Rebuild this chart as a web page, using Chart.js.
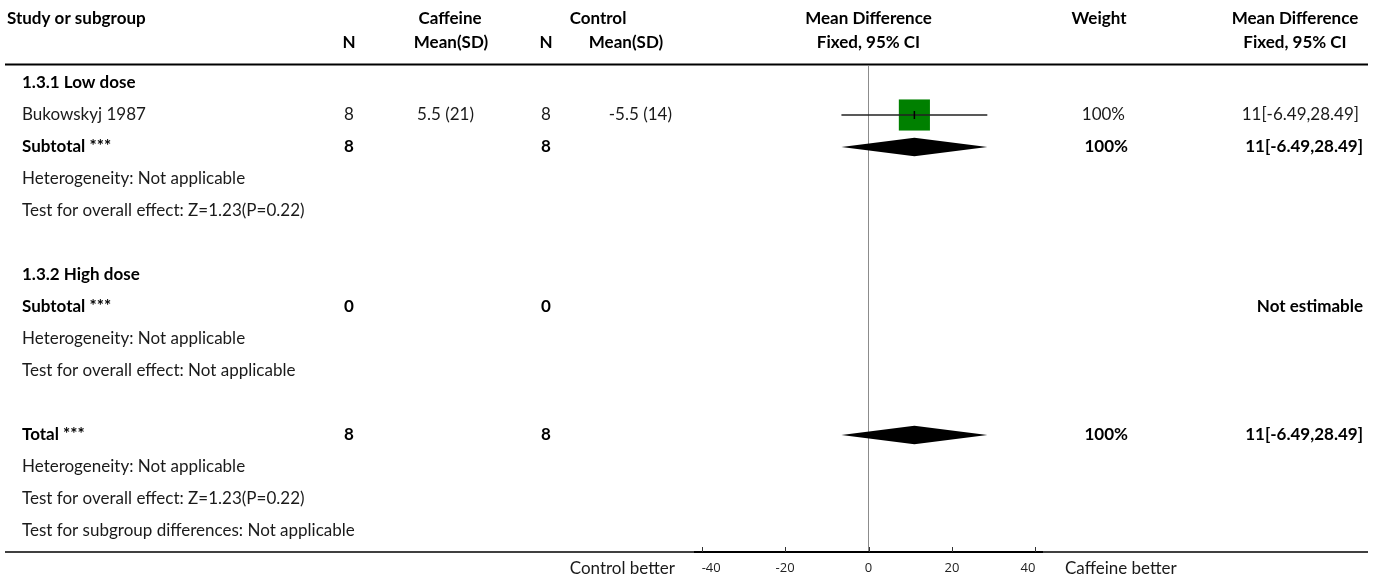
<!DOCTYPE html>
<html>
<head>
<meta charset="utf-8">
<script src="https://cdn.jsdelivr.net/npm/chart.js@4/dist/chart.umd.min.js"></script>
<style>
  html, body { margin: 0; padding: 0; background: #fff; }
  #wrap { width: 1375px; height: 583px; position: relative; }
</style>
</head>
<body>
<div id="wrap"><canvas id="forest" width="1375" height="583"></canvas></div>
<script>
// Axis ticks for the mean-difference scale
const tickValues = [-40, -20, 0, 20, 40];
const axisLimit = 41.6;

// Individual study
const studyNames = ['Bukowskyj 1987'];
const caffeineN = [8];
const caffeineMean = [5.5];
const caffeineSD = [21];
const controlN = [8];
const controlMean = [-5.5];
const controlSD = [14];
const studyMD = [11];
const studyLow = [-6.49];
const studyHigh = [28.49];
const studyWeight = [100];

// Subgroup headings
const subgroupNames = ['1.3.1 Low dose', '1.3.2 High dose'];

// Pooled rows: low-dose subtotal, high-dose subtotal, overall total
const pooledLabels = ['Subtotal ***', 'Subtotal ***', 'Total ***'];
const pooledCaffeineN = [8, 0, 8];
const pooledControlN = [8, 0, 8];
const pooledMD = [11, null, 11];
const pooledLow = [-6.49, null, -6.49];
const pooledHigh = [28.49, null, 28.49];
const pooledWeight = [100, null, 100];
const heterogeneityText = ['Heterogeneity: Not applicable', 'Heterogeneity: Not applicable', 'Heterogeneity: Not applicable'];
const overallEffectText = ['Test for overall effect: Z=1.23(P=0.22)', 'Test for overall effect: Not applicable', 'Test for overall effect: Z=1.23(P=0.22)'];
const subgroupDiffText = 'Test for subgroup differences: Not applicable';

// Row slots on the vertical scale
const studyRows = [1];
const headingRows = [0, 6];
const pooledRows = [2, 7, 11];

const FONT = 'Lato';
const FS = 17;

function fmtCI(m, lo, hi) { return m + '[' + lo + ',' + hi + ']'; }

// Build the text table
const cells = [];
function cell(row, x, text, align, bold) { cells.push({ row, x, text, align, bold }); }
headingRows.forEach((r, i) => cell(r, 22, subgroupNames[i], 'left', true));
studyRows.forEach((r, i) => {
  cell(r, 22, studyNames[i], 'left', false);
  cell(r, 349, String(caffeineN[i]), 'center', false);
  cell(r, 474, caffeineMean[i] + ' (' + caffeineSD[i] + ')', 'right', false);
  cell(r, 546, String(controlN[i]), 'center', false);
  cell(r, 672, controlMean[i] + ' (' + controlSD[i] + ')', 'right', false);
  cell(r, 1125, studyWeight[i] + '%', 'right', false);
  cell(r, 1359, fmtCI(studyMD[i], studyLow[i], studyHigh[i]), 'right', false);
});
pooledRows.forEach((r, i) => {
  cell(r, 22, pooledLabels[i], 'left', true);
  cell(r, 349, String(pooledCaffeineN[i]), 'center', true);
  cell(r, 546, String(pooledControlN[i]), 'center', true);
  if (pooledMD[i] !== null) {
    cell(r, 1128, pooledWeight[i] + '%', 'right', true);
    cell(r, 1363, fmtCI(pooledMD[i], pooledLow[i], pooledHigh[i]), 'right', true);
  } else {
    cell(r, 1363, 'Not estimable', 'right', true);
  }
  cell(r + 1, 22, heterogeneityText[i], 'left', false);
  cell(r + 2, 22, overallEffectText[i], 'left', false);
});
cell(14, 22, subgroupDiffText, 'left', false);

const headerCells = [
  { y: 19, x: 7, text: 'Study or subgroup', align: 'left' },
  { y: 19, x: 450, text: 'Caffeine', align: 'center' },
  { y: 19, x: 598, text: 'Control', align: 'center' },
  { y: 19, x: 'axis', text: 'Mean Difference', align: 'center' },
  { y: 19, x: 1099, text: 'Weight', align: 'center' },
  { y: 19, x: 1295, text: 'Mean Difference', align: 'center' },
  { y: 43, x: 349, text: 'N', align: 'center' },
  { y: 43, x: 451, text: 'Mean(SD)', align: 'center' },
  { y: 43, x: 546, text: 'N', align: 'center' },
  { y: 43, x: 626, text: 'Mean(SD)', align: 'center' },
  { y: 43, x: 'axis', text: 'Fixed, 95% CI', align: 'center' },
  { y: 43, x: 1295, text: 'Fixed, 95% CI', align: 'center' }
];

const forestPlugin = {
  id: 'forestTable',
  afterDatasetsDraw(chart) {
    const { ctx, scales: { x, y } } = chart;
    // pooled diamonds
    ctx.save();
    ctx.fillStyle = '#000';
    pooledRows.forEach((r, i) => {
      if (pooledMD[i] === null) return;
      const yc = y.getPixelForValue(r);
      const h = Math.abs(y.getPixelForValue(r + 0.29) - yc);
      ctx.beginPath();
      ctx.moveTo(x.getPixelForValue(pooledLow[i]), yc);
      ctx.lineTo(x.getPixelForValue(pooledMD[i]), yc - h);
      ctx.lineTo(x.getPixelForValue(pooledHigh[i]), yc);
      ctx.lineTo(x.getPixelForValue(pooledMD[i]), yc + h);
      ctx.closePath();
      ctx.fill();
    });
    ctx.restore();
  },
  afterDraw(chart) {
    const { ctx, chartArea, scales: { x, y } } = chart;
    ctx.save();
    // rules
    ctx.strokeStyle = '#000';
    ctx.lineWidth = 2;
    ctx.beginPath(); ctx.moveTo(5, chartArea.top - 1.5); ctx.lineTo(1368, chartArea.top - 1.5); ctx.stroke();
    ctx.lineWidth = 1.5;
    ctx.beginPath(); ctx.moveTo(5, chartArea.bottom); ctx.lineTo(1368, chartArea.bottom); ctx.stroke();
    // upward tick marks
    ctx.strokeStyle = '#333';
    ctx.lineWidth = 1;
    tickValues.forEach(v => {
      const px = Math.round(x.getPixelForValue(v)) + 0.5;
      ctx.beginPath(); ctx.moveTo(px, chartArea.bottom); ctx.lineTo(px, chartArea.bottom - 5); ctx.stroke();
    });
    // table text
    ctx.textBaseline = 'middle';
    const axisCenter = (chartArea.left + chartArea.right) / 2;
    headerCells.forEach(c => {
      ctx.font = 'bold ' + FS + 'px ' + FONT;
      ctx.fillStyle = '#000';
      ctx.textAlign = c.align;
      ctx.fillText(c.text, c.x === 'axis' ? axisCenter : c.x, c.y);
    });
    cells.forEach(c => {
      ctx.font = (c.bold ? 'bold ' : '') + FS + 'px ' + FONT;
      ctx.fillStyle = c.bold ? '#000' : '#1a1a1a';
      ctx.textAlign = c.align;
      ctx.fillText(c.text, c.x, y.getPixelForValue(c.row));
    });
    // favours labels
    ctx.font = FS + 'px ' + FONT;
    ctx.fillStyle = '#1a1a1a';
    ctx.textAlign = 'right';
    ctx.fillText('Control better', 675, 569);
    ctx.textAlign = 'left';
    ctx.fillText('Caffeine better', 1065, 569);
    ctx.restore();
  }
};

const ctxEl = document.getElementById('forest');
new Chart(ctxEl, {
  data: {
    datasets: [
      {
        type: 'scatter',
        data: studyRows.map((r, i) => ({ x: studyMD[i], y: r })),
        pointStyle: 'line',
        rotation: 90,
        pointRadius: 4,
        borderColor: '#000',
        borderWidth: 1.5
      },
      {
        type: 'line',
        data: studyRows.flatMap((r, i) => [{ x: studyLow[i], y: r }, { x: studyHigh[i], y: r }]),
        borderColor: '#222',
        borderWidth: 1.5,
        pointRadius: 0,
        fill: false
      },
      {
        type: 'scatter',
        data: studyRows.map((r, i) => ({ x: studyMD[i], y: r })),
        pointStyle: 'rect',
        pointRadius: studyWeight.map(w => 22 * Math.sqrt(w / 100)),
        backgroundColor: '#008000',
        borderWidth: 0
      }
    ]
  },
  options: {
    responsive: false,
    animation: false,
    devicePixelRatio: 1,
    layout: { padding: { left: 695, right: 333, top: 66, bottom: 0 } },
    plugins: { legend: { display: false }, tooltip: { enabled: false } },
    scales: {
      x: {
        type: 'linear',
        min: -axisLimit,
        max: axisLimit,
        afterBuildTicks: s => { s.ticks = tickValues.map(v => ({ value: v })); },
        afterFit: s => { s.height = 31; },
        grid: {
          drawTicks: false,
          tickLength: 0,
          lineWidth: 1,
          color: c => (c.tick && c.tick.value === 0 ? '#8c8c8c' : 'rgba(0,0,0,0)')
        },
        border: { display: true, color: '#000', width: 2 },
        ticks: {
          padding: 8,
          align: 'inner',
          maxRotation: 0,
          color: '#222',
          font: { family: 'Open Sans', size: 13 },
          callback: v => String(v)
        }
      },
      y: {
        type: 'linear',
        display: false,
        reverse: true,
        min: -0.53125,
        max: 14.65625
      }
    }
  },
  plugins: [forestPlugin]
});
</script>
</body>
</html>
